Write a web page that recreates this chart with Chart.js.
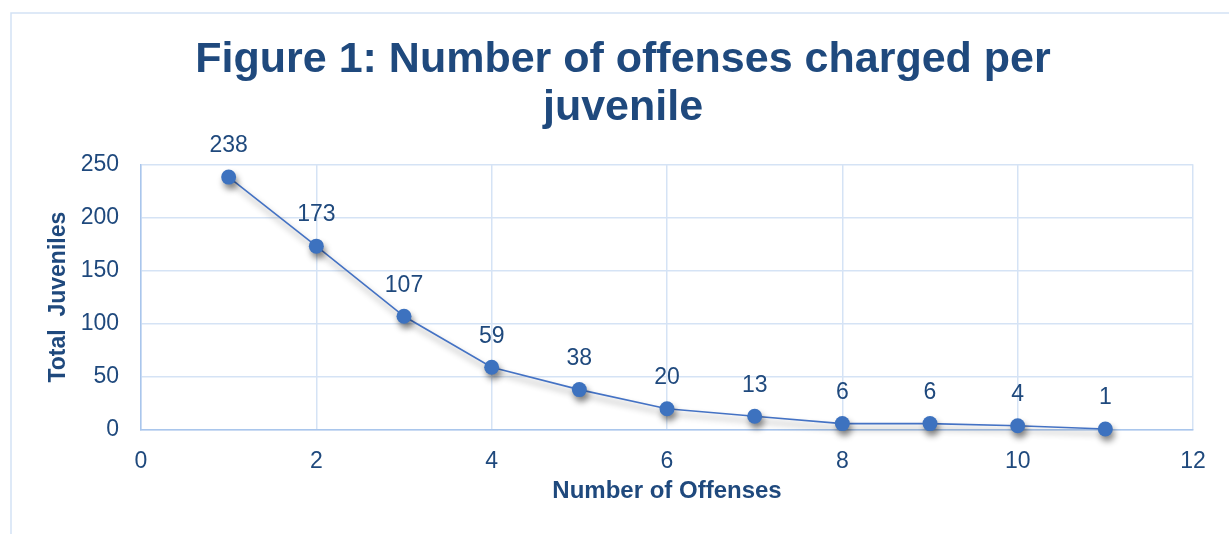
<!DOCTYPE html>
<html><head><meta charset="utf-8">
<script src="https://cdn.jsdelivr.net/npm/chart.js@4.4.1/dist/chart.umd.min.js"></script>
<style>html,body{margin:0;padding:0;background:#fff;overflow:hidden}#wrap{width:1229px;height:534px;position:relative}</style>
</head><body><div id="wrap"><canvas id="c" width="1229" height="534"></canvas></div>
<script>
// ---- data ----
const offenses = [1, 2, 3, 4, 5, 6, 7, 8, 9, 10, 11];
const juveniles = [238, 173, 107, 59, 38, 20, 13, 6, 6, 4, 1];
const titleLines = ['Figure 1: Number of offenses charged per', 'juvenile'];
const xAxisTitle = 'Number of Offenses';
const yAxisTitle = 'Total  Juveniles';
const xTickRange = [0, 12, 2];
const yTickRange = [0, 250, 50];

const textColor = '#1f497d';
const FONT = '"Liberation Sans", Arial, sans-serif';

const framePlugin = {
  id: 'frame',
  beforeDraw(chart) {
    const ctx = chart.ctx;
    ctx.save();
    ctx.fillStyle = '#ffffff';
    ctx.fillRect(0, 0, chart.width, chart.height);
    ctx.strokeStyle = '#d3e2f5';
    ctx.lineWidth = 1.5;
    ctx.strokeRect(11, 13, chart.width + 50, chart.height + 50);
    ctx.restore();
  }
};

const shadowPlugin = {
  id: 'shadow',
  beforeDatasetDraw(chart) {
    const ctx = chart.ctx;
    ctx.save();
    ctx.shadowColor = 'rgba(0,0,0,0.45)';
    ctx.shadowBlur = 6;
    ctx.shadowOffsetX = 2;
    ctx.shadowOffsetY = 5;
  },
  afterDatasetDraw(chart) {
    chart.ctx.restore();
  }
};

const labelPlugin = {
  id: 'pointLabels',
  afterDatasetsDraw(chart) {
    const ctx = chart.ctx;
    const meta = chart.getDatasetMeta(0);
    ctx.save();
    ctx.fillStyle = textColor;
    ctx.font = '23px ' + FONT;
    ctx.textAlign = 'center';
    ctx.textBaseline = 'middle';
    meta.data.forEach((pt, i) => {
      ctx.fillText(String(juveniles[i]), pt.x, pt.y - 31);
    });
    ctx.restore();
  }
};

new Chart(document.getElementById('c'), {
  type: 'line',
  data: {
    datasets: [{
      data: offenses.map((x, i) => ({ x: x, y: juveniles[i] })),
      borderColor: '#4472c4',
      borderWidth: 1.6,
      backgroundColor: '#3d72bf',
      pointBackgroundColor: '#3d72bf',
      pointBorderColor: '#3d72bf',
      pointBorderWidth: 0,
      pointRadius: 7.5,
      pointHoverRadius: 7.5,
      tension: 0,
      fill: false,
      clip: false
    }]
  },
  options: {
    responsive: false,
    animation: false,
    events: [],
    layout: { padding: { top: 0, left: 53, right: 36, bottom: 0 } },
    plugins: {
      legend: { display: false },
      tooltip: { enabled: false },
      title: {
        display: true,
        text: titleLines,
        color: textColor,
        font: { family: FONT, size: 43, weight: 'bold', lineHeight: 1.12 },
        padding: { top: 36, bottom: 32 }
      }
    },
    scales: {
      x: {
        type: 'linear',
        min: xTickRange[0], max: xTickRange[1],
        ticks: { stepSize: xTickRange[2], color: textColor, font: { family: FONT, size: 23 }, padding: 18 },
        grid: { color: '#d5e3f5', lineWidth: 1.5, drawTicks: false },
        border: { color: '#a9c6ec', width: 1.5 },
        title: { display: true, text: xAxisTitle, color: textColor, font: { family: FONT, size: 24, weight: 'bold' }, padding: { top: 0, bottom: 28 } },
        afterFit(scale) { scale.height = 104; }
      },
      y: {
        min: yTickRange[0], max: yTickRange[1],
        ticks: { stepSize: yTickRange[2], color: textColor, font: { family: FONT, size: 23 }, padding: 22 },
        grid: { color: '#d5e3f5', lineWidth: 1.5, drawTicks: false },
        border: { color: '#a9c6ec', width: 1.5 },
        title: { display: true, text: yAxisTitle, color: textColor, font: { family: FONT, size: 23, weight: 'bold' }, padding: { top: -8, bottom: 0 } },
        afterFit(scale) { scale.width = 88; }
      }
    }
  },
  plugins: [framePlugin, shadowPlugin, labelPlugin]
});
</script>
</body></html>
